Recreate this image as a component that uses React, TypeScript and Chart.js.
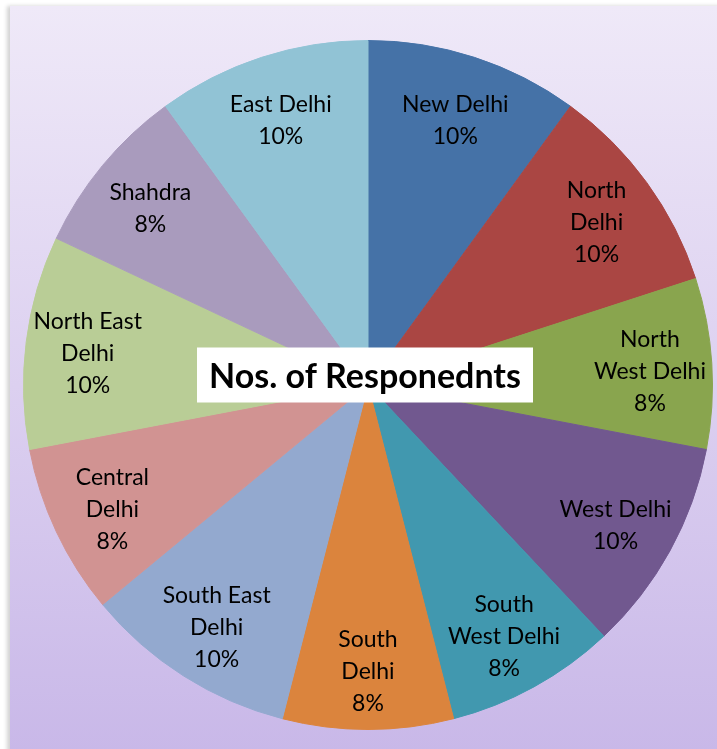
import React, { useEffect, useRef } from "react";
import { Chart, registerables } from "chart.js";

Chart.register(...registerables);

const categories = [
  "New Delhi",
  "North Delhi",
  "North West Delhi",
  "West Delhi",
  "South West Delhi",
  "South Delhi",
  "South East Delhi",
  "Central Delhi",
  "North East Delhi",
  "Shahdra",
  "East Delhi",
];

const respondents = [10, 10, 8, 10, 8, 8, 10, 8, 10, 8, 10];

const labelLines = [
  ["New Delhi"],
  ["North", "Delhi"],
  ["North", "West Delhi"],
  ["West Delhi"],
  ["South", "West Delhi"],
  ["South", "Delhi"],
  ["South East", "Delhi"],
  ["Central", "Delhi"],
  ["North East", "Delhi"],
  ["Shahdra"],
  ["East Delhi"],
];

const sliceColors = [
  "#4572A7",
  "#AA4643",
  "#89A54E",
  "#71588F",
  "#4198AF",
  "#DB843D",
  "#93A9CF",
  "#D19392",
  "#B9CD96",
  "#A99BBD",
  "#91C3D5",
];

const chartTitle = "Nos. of Responednts";

const FONT = "Lato, 'Noto Sans', sans-serif";

const labelPlugin = {
  id: "sliceLabels",
  afterDatasetsDraw(chart: any) {
    const ctx = chart.ctx;
    const meta = chart.getDatasetMeta(0);
    const total = respondents.reduce((a, b) => a + b, 0);
    ctx.save();
    ctx.fillStyle = "#000";
    ctx.font = `23px ${FONT}`;
    ctx.textAlign = "center";
    ctx.textBaseline = "middle";
    const lineH = 32;
    meta.data.forEach((arc: any, i: number) => {
      const mid = (arc.startAngle + arc.endAngle) / 2;
      const r = arc.outerRadius * 0.82;
      const cx = arc.x + Math.cos(mid) * r;
      const cy = arc.y + Math.sin(mid) * r + 4;
      const pct = Math.round((respondents[i] / total) * 100) + "%";
      const lines = [...labelLines[i], pct];
      const startY = cy - ((lines.length - 1) * lineH) / 2;
      lines.forEach((t, k) => ctx.fillText(t, cx, startY + k * lineH));
    });

    // title box
    const a0 = meta.data[0];
    const tx = a0.x - 3;
    const ty = a0.y - 10;
    ctx.font = `bold 34px ${FONT}`;
    const w = 336;
    const h = 55;
    ctx.fillStyle = "#FFFFFF";
    ctx.fillRect(tx - w / 2, ty - h / 2, w, h);
    ctx.fillStyle = "#000";
    ctx.fillText(chartTitle, tx, ty + 2);
    ctx.restore();
  },
};

export default function App() {
  const ref = useRef<HTMLCanvasElement>(null);
  useEffect(() => {
    if (!ref.current) return;
    const chart = new Chart(ref.current, {
      type: "pie",
      data: {
        labels: categories,
        datasets: [
          {
            data: respondents,
            backgroundColor: sliceColors,
            borderColor: sliceColors,
            borderWidth: 1,
          },
        ],
      },
      options: {
        animation: false,
        responsive: false,
        maintainAspectRatio: false,
        layout: { padding: { left: 23, right: 4, top: 40, bottom: 19 } },
        plugins: {
          legend: { display: false },
          tooltip: { enabled: false },
          title: { display: false },
        },
      },
      plugins: [labelPlugin],
    });
    return () => chart.destroy();
  }, []);

  return (
    <div
      style={{
        position: "fixed",
        left: 0,
        top: 0,
        width: 717,
        height: 749,
        background: "#FFFFFF",
        overflow: "hidden",
      }}
    >
      <div
        style={{
          position: "absolute",
          left: 10,
          top: 6,
          width: 720,
          height: 760,
          background: "linear-gradient(to bottom, #EFE9F8 0%, #DCD0F0 50%, #C8B7E8 100%)",
          boxShadow: "-3px 0px 4px rgba(0,0,0,0.18)",
        }}
      />
      <canvas
        ref={ref}
        width={717}
        height={749}
        style={{ position: "absolute", left: 0, top: 0 }}
      />
    </div>
  );
}
